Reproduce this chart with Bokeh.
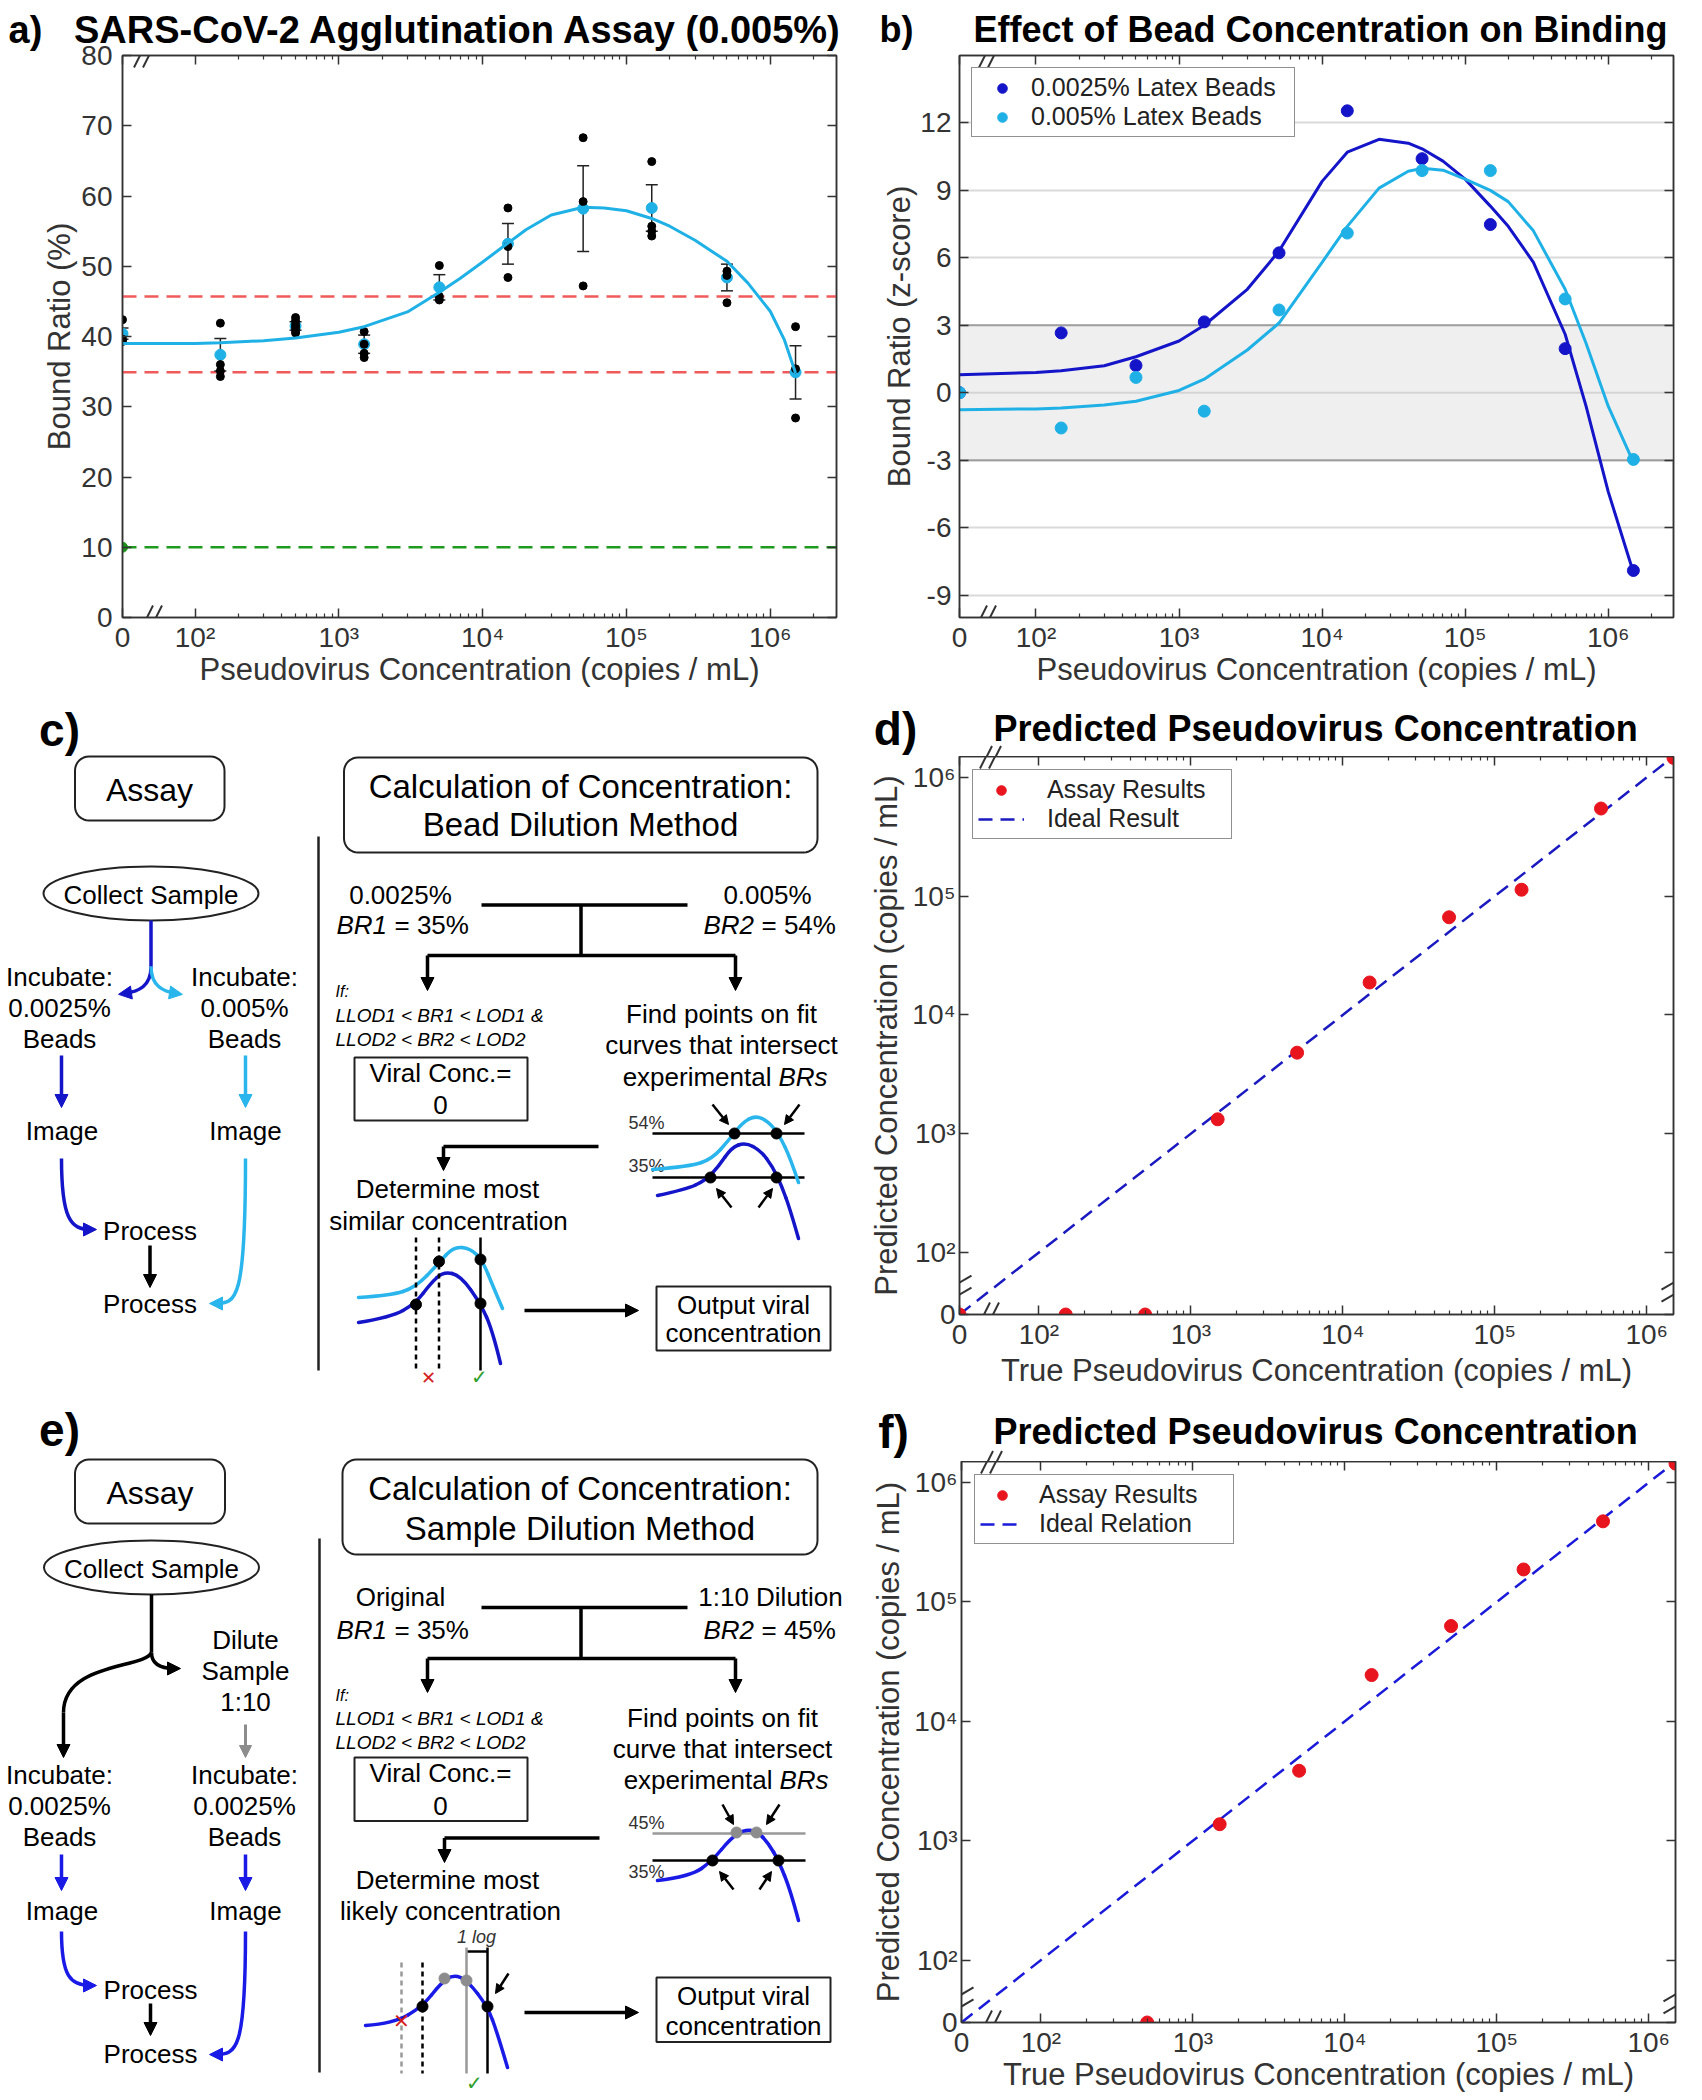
import math
from bokeh.plotting import figure
from bokeh.models import (Range1d, FixedTicker, LinearAxis, LogAxis, Whisker, TeeHead, Title,
                          ColumnDataSource, Legend, LegendItem, BoxAnnotation, Span, Arrow, NormalHead,
                          CustomJSTickFormatter)
from bokeh.layouts import row, column
from bokeh.core.properties import value
from bokeh.embed import file_html
from bokeh.resources import INLINE

FONT = "Liberation Sans"
INK = "#333333"
CYAN = "#1fb1e6"
DBLUE = "#1414c8"
BLUE_E = "#1a1ae6"
RED = "#e8141e"
NB = "\u00a0"

# ---------------- data ----------------
conc = [0, 150, 500, 1500, 5000, 15000, 50000, 150000, 500000, 1500000]
x_major = [0, 100, 1000, 10000, 100000, 1000000]
x_major_text = ["0", "10²", "10³", "10⁴", "10⁵", "10⁶"]

# panel a : bound ratio (%) for 0.005 % beads
a_reps = [
    [42.4, 39.6, 39.3],
    [41.9, 36.0, 35.1, 34.3],
    [42.7, 42.2, 41.7, 41.3, 40.9, 40.5],
    [40.7, 38.9, 37.6, 37.0],
    [50.1, 45.7, 45.2],
    [58.3, 52.8, 48.4],
    [68.3, 59.2, 47.2],
    [64.9, 55.7, 55.0, 54.3],
    [49.3, 48.7, 44.8],
    [41.4, 35.4, 28.4],
]
a_mean = [40.4, 37.4, 41.5, 38.9, 47.0, 53.2, 58.2, 58.3, 48.4, 34.9]
a_err = [0.8, 2.3, 0.6, 1.3, 1.8, 2.9, 6.1, 3.3, 1.9, 3.8]
a_fit_x = [0, 100, 150, 300, 500, 1000, 1500, 3000, 5000, 7000, 10000, 15000, 20000, 30000,
           50000, 70000, 100000, 150000, 200000, 300000, 500000, 700000, 1000000, 1250000, 1500000]
a_fit_y = [39.0, 39.0, 39.1, 39.4, 39.8, 40.6, 41.4, 43.5, 46.3, 48.3, 50.6, 53.3, 55.2, 57.3,
           58.4, 58.3, 57.9, 56.8, 55.7, 53.7, 50.7, 47.6, 43.6, 39.6, 34.8]
a_lod_upper = 45.7
a_lod_lower = 34.9
a_blank = 10.0
a_y_ticks = [0, 10, 20, 30, 40, 50, 60, 70, 80]

# panel b : z-scores
b_low = [0.0, 2.66, 1.21, 3.15, 6.22, 12.54, 10.41, 7.48, 1.96, -7.91]
b_high = [0.0, -1.57, 0.68, -0.82, 3.68, 7.10, 9.88, 9.88, 4.17, -2.97]
b_fit_x = [0, 100, 150, 300, 500, 1000, 1500, 3000, 5000, 10000, 15000, 25000, 40000, 50000,
           70000, 100000, 150000, 200000, 300000, 500000, 700000, 1000000, 1500000]
b_fit_low = [0.8, 0.9, 0.98, 1.2, 1.6, 2.3, 3.0, 4.6, 6.3, 9.4, 10.7, 11.27, 11.1, 10.85,
             10.3, 9.5, 8.3, 7.4, 5.8, 2.6, -0.6, -4.4, -8.0]
b_fit_high = [-0.76, -0.72, -0.68, -0.55, -0.38, 0.1, 0.6, 1.9, 3.1, 5.8, 7.4, 9.1, 9.85, 9.98,
              9.9, 9.5, 9.0, 8.5, 7.2, 4.6, 2.2, -0.6, -3.1]
b_y_ticks = [-9, -6, -3, 0, 3, 6, 9, 12]

# panel d / f : predicted vs true
d_true = conc
d_pred = [0, 0, 0, 1321, 4810, 18750, 66400, 113300, 547000, 1460000]
f_true = [500, 1500, 5000, 15000, 50000, 150000, 500000, 1500000]
f_pred = [0, 1374, 3853, 24400, 62800, 187000, 473000, 1440000]
ideal = [0, 1500000]


# ---------------- helpers ----------------
def no_align(p):
    try:
        p.frame_align = False
    except Exception:
        pass
    return p


def zpos(v, z):
    return z if v == 0 else v


def style_axis(ax, show=True, tick_size="28px"):
    ax.axis_line_color = INK
    ax.axis_line_width = 1.5
    ax.major_tick_in = 9
    ax.major_tick_out = 0
    ax.minor_tick_in = 4
    ax.minor_tick_out = 0
    ax.major_tick_line_color = INK
    ax.major_tick_line_width = 1.5
    ax.minor_tick_line_color = INK
    ax.minor_tick_line_width = 1.2
    ax.major_label_text_font = FONT
    ax.major_label_text_color = INK
    ax.major_label_text_font_size = tick_size
    if not show:
        ax.formatter = CustomJSTickFormatter(code="return ''")
        ax.major_label_standoff = 0
        ax.major_label_text_font_size = "1px"
    ax.axis_label_text_font = FONT
    ax.axis_label_text_font_style = "normal"
    ax.axis_label_text_font_size = "31px"
    ax.axis_label_text_color = INK


def make_plot(w, h, L, R, T, B, xr, yr, ylog=False):
    p = figure(width=w, height=h, x_axis_type="log", y_axis_type="log" if ylog else "linear",
               x_range=Range1d(*xr), y_range=Range1d(*yr), output_backend="svg",
               toolbar_location=None, min_border_left=L, min_border_right=R,
               min_border_top=T, min_border_bottom=B)
    p.outline_line_color = INK
    p.outline_line_width = 1.5
    p.xgrid.visible = False
    p.ygrid.visible = False
    return no_align(p)


def set_title(p, text, size, offset, standoff=4):
    p.title = Title(text=text, align="left", offset=offset, standoff=standoff, text_font=FONT,
                    text_font_size=size, text_font_style="bold", text_color="black")


def log_ticker(z, top):
    minor = [m * 10 ** e for e in range(2, 7) for m in range(2, 10) if m * 10 ** e < top]
    return FixedTicker(ticks=[z] + x_major[1:], minor_ticks=minor)


def log_formatter(z):
    vals = [z] + x_major[1:]
    code = ("const v = %s; const t = %s; let best = 0; let bd = 1e99;"
            "for (let i = 0; i < v.length; i++) { const d = Math.abs(Math.log10(tick) - Math.log10(v[i]));"
            " if (d < bd) { bd = d; best = i; } } return t[best];") % (vals, x_major_text)
    return CustomJSTickFormatter(code=code)


def frame_axes(p, xt, xf, yt, yf, xlabel, ylabel, ylog, xl_std, yl_std, ytick_std, xtick_std=4):
    bx = p.xaxis[0]
    ly = p.yaxis[0]
    style_axis(bx)
    style_axis(ly)
    bx.ticker = xt
    bx.formatter = xf
    bx.axis_label = xlabel
    ly.ticker = yt
    ly.formatter = yf
    ly.axis_label = ylabel
    bx.major_label_standoff = xtick_std
    bx.axis_label_standoff = xl_std
    ly.major_label_standoff = ytick_std
    ly.axis_label_standoff = yl_std
    top = LogAxis(ticker=xt)
    style_axis(top, show=False)
    right = (LogAxis if ylog else LinearAxis)(ticker=yt)
    style_axis(right, show=False)
    p.add_layout(top, "above")
    p.add_layout(right, "right")


# axis-break marks, drawn as short line pairs (offsets in screen pixels, y pointing down)
SLASH = [(-10.5, 12, 1.5, -12), (-1.5, 12, 10.5, -12)]
SIDE = [(-12, 1, 12, -13), (-12, 13, 12, -1)]


def brk_plot(p, xc, yc, xdec_px, ypx, ylog, shape):
    """xc, yc: data position of the mark centre; xdec_px: pixels per decade on x;
    ypx: pixels per y unit (linear) or per decade (log)."""
    x0s, y0s, x1s, y1s = [], [], [], []
    lx = math.log10(xc)
    for dx0, dy0, dx1, dy1 in shape:
        x0s.append(10 ** (lx + dx0 / xdec_px))
        x1s.append(10 ** (lx + dx1 / xdec_px))
        if ylog:
            ly = math.log10(yc)
            y0s.append(10 ** (ly - dy0 / ypx))
            y1s.append(10 ** (ly - dy1 / ypx))
        else:
            y0s.append(yc - dy0 / ypx)
            y1s.append(yc - dy1 / ypx)
    p.segment(x0=x0s, y0=y0s, x1=x1s, y1=y1s, line_color=INK, line_width=2)


def brk_strip(p, xc, yc):
    p.segment(x0=[xc + s[0] for s in SLASH], y0=[yc + s[1] for s in SLASH],
              x1=[xc + s[2] for s in SLASH], y1=[yc + s[3] for s in SLASH],
              line_color=INK, line_width=2)


def style_legend(lg, margin, padding, spacing, gw, standoff, lw):
    lg.location = "top_left"
    lg.margin = margin
    lg.padding = padding
    lg.spacing = spacing
    lg.glyph_width = gw
    lg.glyph_height = 24
    lg.label_height = 24
    lg.label_width = lw
    lg.label_standoff = standoff
    lg.label_text_font = FONT
    lg.label_text_font_size = "25px"
    lg.label_text_color = "#222222"
    lg.border_line_color = "#222222"
    lg.border_line_width = 1.5
    lg.background_fill_alpha = 1.0


def plain_fig(width, height, x0, y0):
    p = figure(width=width, height=height, x_range=Range1d(x0, x0 + width),
               y_range=Range1d(y0 + height, y0), output_backend="svg", toolbar_location=None,
               min_border=0, x_axis_location=None, y_axis_location=None)
    p.outline_line_color = None
    p.xgrid.visible = False
    p.ygrid.visible = False
    return no_align(p)


def txt(p, x, y, s, size=26, style="normal", align="center", color="black", font=FONT):
    p.text(x=[x], y=[y], text=[s], text_font=value(font), text_font_size=f"{size}px",
           text_font_style=style, text_align=align, text_baseline="middle", text_color=color)


# ---------------- title strips for d and f ----------------
strip_d = plain_fig(851, 66, 851, 690)
txt(strip_d, 895, 728, "d)", 46, "bold")
txt(strip_d, 993, 728, "Predicted Pseudovirus Concentration", 36, "bold", "left")
brk_strip(strip_d, 990, 757.5)

strip_f = plain_fig(851, 71, 851, 1390)
txt(strip_f, 893, 1431, "f)", 46, "bold")
txt(strip_f, 993, 1431, "Predicted Pseudovirus Concentration", 36, "bold", "left")
brk_strip(strip_f, 991, 1462.5)

# ---------------- panel a ----------------
ZA = 31.3
XA_MAX = 2.89e6
pa = make_plot(851, 690, 122, 15, 55, 73, (ZA, XA_MAX), (0, 80))
set_title(pa, "a)" + NB * 3 + "SARS-CoV-2 Agglutination Assay (0.005%)", "38px", -114, 9)
frame_axes(pa, log_ticker(ZA, XA_MAX), log_formatter(ZA), FixedTicker(ticks=a_y_ticks, minor_ticks=[]),
           CustomJSTickFormatter(code="return tick.toString()"),
           "Pseudovirus Concentration (copies / mL)", "Bound Ratio (%)", False, -4, 1, 10)
for loc, col in [(a_lod_upper, "#f05a5a"), (a_lod_lower, "#f05a5a"), (a_blank, "#1e9a1e")]:
    pa.add_layout(Span(location=loc, dimension="width", line_color=col, line_width=2.5,
                       line_dash="14 8", level="underlay"))
rx, ry = [], []
for c, reps in zip(conc, a_reps):
    for r in reps:
        rx.append(zpos(c, ZA))
        ry.append(r)
xa = [zpos(c, ZA) for c in conc]
pa.scatter(xa, a_mean, size=11, color=CYAN)
pa.scatter(rx, ry, size=8, color="black")
wsrc = ColumnDataSource(dict(x=xa, up=[m + e for m, e in zip(a_mean, a_err)],
                             lo=[m - e for m, e in zip(a_mean, a_err)]))
pa.add_layout(Whisker(source=wsrc, base="x", upper="up", lower="lo", dimension="height",
                      line_color="#222222", line_width=1.5,
                      upper_head=TeeHead(size=12, line_color="#222222", line_width=1.5),
                      lower_head=TeeHead(size=12, line_color="#222222", line_width=1.5)))
pa.line([zpos(x, ZA) for x in a_fit_x], a_fit_y, line_color=CYAN, line_width=3)
pa.scatter([ZA], [a_blank], size=10, color="#1e8f1e")
A_XDEC = 714 / math.log10(XA_MAX / ZA)
A_YPX = 562 / 80
brk_plot(pa, 10 ** (math.log10(ZA) + 22 / A_XDEC), 80, A_XDEC, A_YPX, False, SLASH)
brk_plot(pa, 10 ** (math.log10(ZA) + 29 / A_XDEC), 0, A_XDEC, A_YPX, False, SLASH)

# ---------------- panel b ----------------
ZB = 29.2
XB_MAX = 2.86e6
pb = make_plot(851, 690, 108, 29, 55, 73, (ZB, XB_MAX), (-10, 15))
set_title(pb, "b)" + NB * 6 + "Effect of Bead Concentration on Binding", "36px", -80, 12)
frame_axes(pb, log_ticker(ZB, XB_MAX), log_formatter(ZB), FixedTicker(ticks=b_y_ticks, minor_ticks=[]),
           CustomJSTickFormatter(code="return tick.toString()"),
           "Pseudovirus Concentration (copies / mL)", "Bound Ratio (z-score)", False, -4, 0, 8)
pb.ygrid.visible = True
pb.ygrid.ticker = FixedTicker(ticks=b_y_ticks)
pb.ygrid.grid_line_color = "#dadada"
pb.ygrid.grid_line_width = 2
pb.add_layout(BoxAnnotation(bottom=-3, top=3, fill_color="#efefef", fill_alpha=1.0,
                            line_color=None, level="underlay"))
for loc, col in [(0, "#d4d4d4"), (3, "#9e9e9e"), (-3, "#9e9e9e")]:
    pb.add_layout(Span(location=loc, dimension="width", line_color=col, line_width=2, level="underlay"))
xb = [zpos(c, ZB) for c in conc]
xbf = [zpos(x, ZB) for x in b_fit_x]
pb.line(xbf, b_fit_low, line_color=DBLUE, line_width=3)
pb.line(xbf, b_fit_high, line_color=CYAN, line_width=3)
rb1 = pb.scatter(xb, b_low, size=12, color=DBLUE)
rb2 = pb.scatter(xb, b_high, size=12, color=CYAN)
lgb = Legend(items=[LegendItem(label="0.0025% Latex Beads", renderers=[rb1]),
                    LegendItem(label="0.005% Latex Beads", renderers=[rb2])])
style_legend(lgb, 12, 5, -3, 50, 4, 258)
pb.add_layout(lgb)
B_XDEC = 714 / math.log10(XB_MAX / ZB)
B_YPX = 562 / 25
brk_plot(pb, 10 ** (math.log10(ZB) + 30 / B_XDEC), 15, B_XDEC, B_YPX, False, SLASH)
brk_plot(pb, 10 ** (math.log10(ZB) + 26 / B_XDEC), -10, B_XDEC, B_YPX, False, SLASH)

# ---------------- panel d ----------------
ZD = 30.0
XD_MAX = 1.5e6
D_DEC = math.log10(XD_MAX / ZD)
pdd = make_plot(851, 634, 108, 29, 0, 72, (ZD, XD_MAX), (ZD, XD_MAX), ylog=True)
frame_axes(pdd, log_ticker(ZD, XD_MAX), log_formatter(ZD),
           FixedTicker(ticks=[ZD] + x_major[1:], minor_ticks=[]), log_formatter(ZD),
           "True Pseudovirus Concentration (copies / mL)", "Predicted Concentration (copies / mL)",
           True, 0, 5, 4)
ld = pdd.line([zpos(v, ZD) for v in ideal], [zpos(v, ZD) for v in ideal], line_color="#1a1ac0",
              line_width=2.5, line_dash="14 8")
sd = pdd.scatter([zpos(v, ZD) for v in d_true], [zpos(v, ZD) for v in d_pred], size=13, color=RED)
lgd = Legend(items=[LegendItem(label="Assay Results", renderers=[sd]),
                    LegendItem(label="Ideal Result", renderers=[ld])])
style_legend(lgd, 13, 5, -3, 46, 23, 179)
pdd.add_layout(lgd)
DX = 714 / D_DEC
DY = 560.5 / D_DEC
brk_plot(pdd, 10 ** (math.log10(ZD) + 31 / DX), XD_MAX, DX, DY, True, SLASH)
brk_plot(pdd, 10 ** (math.log10(ZD) + 29 / DX), ZD, DX, DY, True, SLASH)
brk_plot(pdd, ZD, 10 ** (math.log10(ZD) + 26 / DY), DX, DY, True, SIDE)
brk_plot(pdd, XD_MAX, 10 ** (math.log10(ZD) + 26 / DY), DX, DY, True, SIDE)

# ---------------- panel f ----------------
pf = make_plot(851, 637, 110, 27, 0, 76, (ZD, XD_MAX), (ZD, XD_MAX), ylog=True)
frame_axes(pf, log_ticker(ZD, XD_MAX), log_formatter(ZD),
           FixedTicker(ticks=[ZD] + x_major[1:], minor_ticks=[]), log_formatter(ZD),
           "True Pseudovirus Concentration (copies / mL)", "Predicted Concentration (copies / mL)",
           True, -4, 5, 4)
lf = pf.line([zpos(v, ZD) for v in ideal], [zpos(v, ZD) for v in ideal], line_color="#1a1ad8",
             line_width=2.5, line_dash="14 8")
sf = pf.scatter([zpos(v, ZD) for v in f_true], [zpos(v, ZD) for v in f_pred], size=13, color=RED)
lgf = Legend(items=[LegendItem(label="Assay Results", renderers=[sf]),
                    LegendItem(label="Ideal Relation", renderers=[lf])])
style_legend(lgf, 13, 5, -1, 44, 15, 189)
pf.add_layout(lgf)
FY = 559.5 / D_DEC
brk_plot(pf, 10 ** (math.log10(ZD) + 30 / DX), XD_MAX, DX, FY, True, SLASH)
brk_plot(pf, 10 ** (math.log10(ZD) + 29 / DX), ZD, DX, FY, True, SLASH)
brk_plot(pf, ZD, 10 ** (math.log10(ZD) + 22 / FY), DX, FY, True, SIDE)
brk_plot(pf, XD_MAX, 10 ** (math.log10(ZD) + 22 / FY), DX, FY, True, SIDE)


# ---------------- diagram helpers ----------------
def rbox(p, x0, y0, x1, y1, r=14, lw=2):
    xs, ys = [], []
    for cx, cy, a0 in [(x1 - r, y0 + r, -math.pi / 2), (x1 - r, y1 - r, 0.0),
                       (x0 + r, y1 - r, math.pi / 2), (x0 + r, y0 + r, math.pi)]:
        for k in range(9):
            a = a0 + k * (math.pi / 2) / 8
            xs.append(cx + r * math.cos(a))
            ys.append(cy + r * math.sin(a))
    p.patch(xs, ys, fill_color="white", line_color="#222222", line_width=lw)


def sbox(p, x0, y0, x1, y1, lw=2):
    p.quad(left=[x0], right=[x1], top=[y0], bottom=[y1], fill_color="white",
           line_color="#222222", line_width=lw)


def seg(p, xs, ys, color="black", lw=3.5, dash="solid"):
    p.line(xs, ys, line_color=color, line_width=lw, line_dash=dash)


def head(p, x0, y0, x1, y1, color="black", size=13, lw=3.5):
    p.add_layout(Arrow(end=NormalHead(size=size, fill_color=color, line_color=color, line_width=1),
                       x_start=x0, y_start=y0, x_end=x1, y_end=y1, line_color=color, line_width=lw))


def curve_arrow(p, pts, color, lw=3.5, size=13):
    (x0, y0), (a0, b0), (a1, b1), (x1, y1) = pts
    p.bezier(x0=[x0], y0=[y0], cx0=[a0], cy0=[b0], cx1=[a1], cy1=[b1], x1=[x1], y1=[y1],
             line_color=color, line_width=lw)
    dx, dy = x1 - a1, y1 - b1
    n = math.hypot(dx, dy)
    head(p, x1 - dx / n, y1 - dy / n, x1 + dx / n * 6, y1 + dy / n * 6, color, size, lw)


def smooth_curve(p, pts, color, lw=3.5):
    n = len(pts)
    x0s, y0s, x1s, y1s, cxs, cys = [], [], [], [], [], []
    for i in range(1, n - 1):
        s = pts[0] if i == 1 else ((pts[i - 1][0] + pts[i][0]) / 2, (pts[i - 1][1] + pts[i][1]) / 2)
        e = pts[-1] if i == n - 2 else ((pts[i][0] + pts[i + 1][0]) / 2, (pts[i][1] + pts[i + 1][1]) / 2)
        x0s.append(s[0]); y0s.append(s[1]); x1s.append(e[0]); y1s.append(e[1])
        cxs.append(pts[i][0]); cys.append(pts[i][1])
    p.quadratic(x0=x0s, y0=y0s, x1=x1s, y1=y1s, cx=cxs, cy=cys, line_color=color,
                line_width=lw, line_cap="round")


def dots(p, pts, color="black", size=11):
    p.scatter([q[0] for q in pts], [q[1] for q in pts], size=size, color=color)


def tree(p, y_top, y_mid, y_arr):
    seg(p, [481, 687], [y_top, y_top])
    seg(p, [580.5, 580.5], [y_top, y_mid])
    seg(p, [427, 735], [y_mid, y_mid])
    head(p, 427, y_mid, 427, y_arr)
    head(p, 735, y_mid, 735, y_arr)


def mixed(p, y, left_x, italic_part, rest, size=26):
    txt(p, left_x, y, italic_part, size, "italic", "left")
    txt(p, left_x + 58, y, rest, size, "normal", "left")


# ---- panel c ----
CY = "#2ab6ec"
pc = plain_fig(851, 700, 0, 690)
txt(pc, 59, 729, "c)", 46, "bold")
rbox(pc, 74.5, 756, 224, 820)
txt(pc, 149, 789, "Assay", 32)
rbox(pc, 343.5, 757, 817, 852)
txt(pc, 580, 786, "Calculation of Concentration:", 33)
txt(pc, 580, 824, "Bead Dilution Method", 33)
seg(pc, [318, 318], [836, 1370], "#222222", 2.5)
pc.ellipse(x=[150.5], y=[893], width=215, height=54, fill_color="white", line_color="#222222", line_width=2)
txt(pc, 150.5, 894, "Collect Sample", 26)
seg(pc, [150.5, 150.5], [920, 966], DBLUE)
curve_arrow(pc, [(150.5, 966), (150.5, 986), (138, 991), (124, 993)], DBLUE)
curve_arrow(pc, [(150.5, 966), (150.5, 986), (163, 991), (176, 993)], CY)
for x, lines in [(59, ["Incubate:", "0.0025%", "Beads"]), (244, ["Incubate:", "0.005%", "Beads"])]:
    for k, s in enumerate(lines):
        txt(pc, x, 976 + 31 * k, s, 26)
head(pc, 61, 1055, 61, 1107, DBLUE)
head(pc, 245, 1055, 245, 1107, CY)
txt(pc, 61.5, 1130, "Image", 26)
txt(pc, 245, 1130, "Image", 26)
curve_arrow(pc, [(61, 1158), (61, 1218), (70, 1229), (90, 1229)], DBLUE)
curve_arrow(pc, [(245, 1158), (245, 1300), (236, 1303), (215, 1303)], CY)
txt(pc, 149.5, 1230, "Process", 26)
head(pc, 149.5, 1245, 149.5, 1287, "black")
txt(pc, 149.5, 1303, "Process", 26)
# right side
txt(pc, 400, 894, "0.0025%", 26)
mixed(pc, 924, 336, "BR1", "= 35%")
txt(pc, 767, 894, "0.005%", 26)
mixed(pc, 924, 703, "BR2", "= 54%")
tree(pc, 904.5, 955, 990)
txt(pc, 335, 991, "If:", 16, "italic", "left")
txt(pc, 335, 1015, "LLOD1 < BR1 < LOD1 &", 19, "italic", "left")
txt(pc, 335, 1039, "LLOD2 < BR2 < LOD2", 19, "italic", "left")
sbox(pc, 354, 1057, 527, 1120)
txt(pc, 440, 1072, "Viral Conc.=", 26)
txt(pc, 440, 1104, "0", 26)
txt(pc, 721, 1013, "Find points on fit", 26)
txt(pc, 721, 1044, "curves that intersect", 26)
txt(pc, 771, 1076, "experimental", 26, "normal", "right")
txt(pc, 778, 1076, "BRs", 26, "italic", "left")
txt(pc, 646, 1122, "54%", 18, color="#333333")
txt(pc, 646, 1165, "35%", 18, color="#333333")
seg(pc, [652, 804], [1133, 1133], "black", 2.5)
seg(pc, [652, 804], [1177, 1177], "black", 2.5)
smooth_curve(pc, [(652, 1169), (690, 1166), (712, 1158), (728, 1140), (742, 1122), (755, 1115),
                  (768, 1121), (779, 1135), (790, 1158), (798, 1182)], CY)
smooth_curve(pc, [(657, 1195), (685, 1189), (705, 1180), (718, 1166), (731, 1147), (745, 1142),
                  (760, 1150), (772, 1166), (781, 1185), (790, 1210), (798, 1238)], DBLUE)
dots(pc, [(734, 1133), (776, 1133), (710, 1177), (776, 1177)])
head(pc, 712, 1104, 728, 1124, "black", 9, 2.5)
head(pc, 799, 1104, 784, 1124, "black", 9, 2.5)
head(pc, 731, 1207, 716, 1188, "black", 9, 2.5)
head(pc, 758, 1207, 772, 1188, "black", 9, 2.5)
seg(pc, [598, 443], [1146, 1146])
head(pc, 443, 1146, 443, 1170, "black")
txt(pc, 447, 1188, "Determine most", 26)
txt(pc, 448, 1220, "similar concentration", 26)
smooth_curve(pc, [(358, 1297), (390, 1295), (415, 1287), (438, 1263), (453, 1246), (470, 1248),
                  (482, 1260), (493, 1287), (502, 1308)], CY)
smooth_curve(pc, [(358, 1322), (390, 1317), (415, 1303), (430, 1283), (443, 1271), (460, 1275),
                  (480, 1303), (492, 1330), (500, 1363)], DBLUE)
seg(pc, [415.5, 415.5], [1237, 1370], "black", 2.5, "5 4")
seg(pc, [438.5, 438.5], [1237, 1370], "black", 2.5, "5 4")
seg(pc, [480, 480], [1237, 1370], "black", 2.5)
dots(pc, [(438.5, 1261), (480, 1259), (415.5, 1304), (480, 1303)])
txt(pc, 428, 1377, "✕", 18, "bold", color="#d42020", font="DejaVu Sans")
txt(pc, 479, 1376, "✓", 20, "bold", color="#2ea02e", font="DejaVu Sans")
head(pc, 524, 1310, 638, 1310, "black")
sbox(pc, 656, 1286, 830, 1350)
txt(pc, 743, 1304, "Output viral", 26)
txt(pc, 743, 1332, "concentration", 26)

# ---- panel e ----
pe = plain_fig(851, 708, 0, 1390)
txt(pe, 59, 1429, "e)", 46, "bold")
rbox(pe, 74.5, 1459, 224.5, 1523)
txt(pe, 149.5, 1492, "Assay", 32)
rbox(pe, 342, 1459, 817, 1554)
txt(pe, 579.5, 1488, "Calculation of Concentration:", 33)
txt(pe, 579.5, 1528, "Sample Dilution Method", 33)
seg(pe, [319, 319], [1538, 2072], "#222222", 2.5)
pe.ellipse(x=[151], y=[1567], width=215, height=54, fill_color="white", line_color="#222222", line_width=2)
txt(pe, 151, 1568, "Collect Sample", 26)
seg(pe, [151, 151], [1594, 1652], "black")
p_left = [(151, 1652), (144, 1668), (63, 1662), (63, 1712)]
pe.bezier(x0=[p_left[0][0]], y0=[p_left[0][1]], cx0=[p_left[1][0]], cy0=[p_left[1][1]],
          cx1=[p_left[2][0]], cy1=[p_left[2][1]], x1=[p_left[3][0]], y1=[p_left[3][1]],
          line_color="black", line_width=3.5)
head(pe, 63, 1712, 63, 1757, "black")
curve_arrow(pe, [(151, 1652), (151, 1664), (160, 1668), (174, 1668)], "black")
txt(pe, 245, 1639, "Dilute", 26)
txt(pe, 245, 1670, "Sample", 26)
txt(pe, 245, 1701, "1:10", 26)
head(pe, 245, 1724, 245, 1757, "#8c8c8c", 12, 3)
for x, lines in [(59, ["Incubate:", "0.0025%", "Beads"]), (244, ["Incubate:", "0.0025%", "Beads"])]:
    for k, s in enumerate(lines):
        txt(pe, x, 1774 + 31 * k, s, 26)
head(pe, 61, 1854, 61, 1890, BLUE_E)
head(pe, 245, 1854, 245, 1890, BLUE_E)
txt(pe, 61.5, 1910, "Image", 26)
txt(pe, 245, 1910, "Image", 26)
curve_arrow(pe, [(61, 1931), (61, 1976), (70, 1985), (90, 1985)], BLUE_E)
curve_arrow(pe, [(245, 1931), (245, 2050), (236, 2054), (215, 2054)], BLUE_E)
txt(pe, 150, 1989, "Process", 26)
head(pe, 150, 2003, 150, 2035, "black")
txt(pe, 150, 2053, "Process", 26)
# right side
txt(pe, 400, 1596, "Original", 26)
mixed(pe, 1629, 336, "BR1", "= 35%")
txt(pe, 770, 1596, "1:10 Dilution", 26)
mixed(pe, 1629, 703, "BR2", "= 45%")
tree(pe, 1607, 1658, 1692)
txt(pe, 335, 1695, "If:", 16, "italic", "left")
txt(pe, 335, 1718, "LLOD1 < BR1 < LOD1 &", 19, "italic", "left")
txt(pe, 335, 1742, "LLOD2 < BR2 < LOD2", 19, "italic", "left")
sbox(pe, 354, 1757, 527, 1820.5)
txt(pe, 440, 1772, "Viral Conc.=", 26)
txt(pe, 440, 1805, "0", 26)
txt(pe, 722, 1717, "Find points on fit", 26)
txt(pe, 722, 1748, "curve that intersect", 26)
txt(pe, 772, 1779, "experimental", 26, "normal", "right")
txt(pe, 779, 1779, "BRs", 26, "italic", "left")
txt(pe, 646, 1822, "45%", 18, color="#333333")
txt(pe, 646, 1871, "35%", 18, color="#333333")
seg(pe, [652, 805], [1833, 1833], "#999999", 2.5)
seg(pe, [652, 805], [1860, 1860], "black", 2.5)
smooth_curve(pe, [(657, 1880), (690, 1876), (712, 1860), (730, 1838), (744, 1829), (757, 1831),
                  (768, 1843), (778, 1860), (790, 1890), (798, 1920)], BLUE_E)
dots(pe, [(736, 1832), (756, 1832)], "#8c8c8c")
dots(pe, [(712, 1860), (778, 1860)])
head(pe, 722, 1804, 733, 1824, "black", 9, 2.5)
head(pe, 779, 1804, 766, 1824, "black", 9, 2.5)
head(pe, 733, 1889, 719, 1871, "black", 9, 2.5)
head(pe, 759, 1889, 771, 1871, "black", 9, 2.5)
seg(pe, [599, 444], [1837.5, 1837.5])
head(pe, 444, 1837.5, 444, 1862, "black")
txt(pe, 447, 1879, "Determine most", 26)
txt(pe, 450, 1910, "likely concentration", 26)
txt(pe, 476, 1936, "1 log", 18, "italic", color="#333333")
seg(pe, [466, 487], [1951, 1951], "black", 2.5)
seg(pe, [401, 401], [1962, 2073], "#999999", 2.5, "5 4")
seg(pe, [422, 422], [1962, 2073], "black", 2.5, "5 4")
seg(pe, [466, 466], [1947, 2073], "#999999", 2.5)
seg(pe, [487, 487], [1947, 2073], "black", 2.5)
smooth_curve(pe, [(365, 2025), (393, 2023), (422, 2006), (440, 1983), (453, 1974), (467, 1980),
                  (487, 2006), (497, 2033), (507, 2067)], BLUE_E)
dots(pe, [(444, 1978), (466, 1980)], "#8c8c8c")
dots(pe, [(422, 2006), (487, 2006)])
txt(pe, 401, 2020, "✕", 20, "bold", color="#d42020", font="DejaVu Sans")
head(pe, 508, 1973, 495, 1993, "black", 9, 2.5)
txt(pe, 474, 2082, "✓", 20, "bold", color="#2ea02e", font="DejaVu Sans")
head(pe, 524, 2012, 638, 2012, "black")
sbox(pe, 656, 1977, 830, 2041.5)
txt(pe, 743, 1995, "Output viral", 26)
txt(pe, 743, 2025, "concentration", 26)

layout = column(
    row(pa, pb, spacing=0),
    row(pc, column(strip_d, pdd, spacing=0), spacing=0),
    row(pe, column(strip_f, pf, spacing=0), spacing=0),
    spacing=0,
)
open("out.html", "w").write(file_html(layout, INLINE))
